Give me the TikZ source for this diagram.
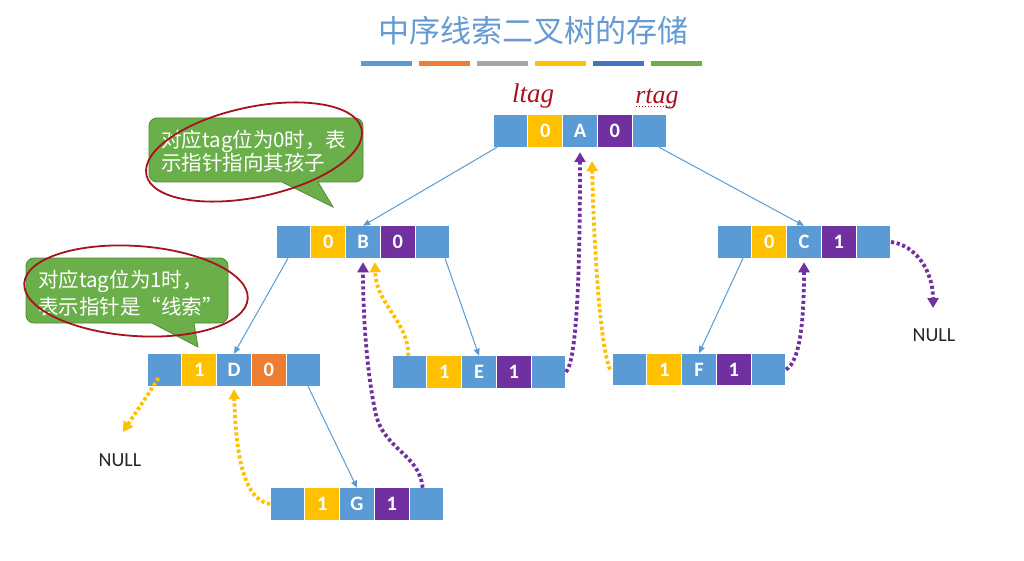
\documentclass[tikz,border=0pt]{standalone}
\usepackage{fontspec}
\setmainfont{Carlito}
\newfontfamily\cjk{Noto Sans CJK SC}
\newfontfamily\handfont{Liberation Serif}
\usetikzlibrary{arrows.meta,calc}
\definecolor{cblue}{HTML}{5B9BD5}
\definecolor{cyellow}{HTML}{FFC000}
\definecolor{cpurple}{HTML}{7030A0}
\definecolor{corange}{HTML}{ED7D31}
\definecolor{cgray}{HTML}{A5A5A5}
\definecolor{cdblue}{HTML}{4472C4}
\definecolor{cgreen}{HTML}{70AD47}
\definecolor{ctitle}{HTML}{649BD2}
\definecolor{calloutfill}{HTML}{6AAF4A}
\definecolor{calloutline}{HTML}{4E8A35}
\definecolor{handred}{HTML}{A8121E}
\newcommand{\rec}[8]{%
  \node[cell,fill=cblue] (#1a) at (#2+17.4,#3) {};
  \node[cell,fill=#4] (#1b) at (#2+52.2,#3) {#5};
  \node[cell,fill=cblue] (#1c) at (#2+87,#3) {#6};
  \node[cell,fill=#7] (#1d) at (#2+121.8,#3) {#8};
  \node[cell,fill=cblue] (#1e) at (#2+156.6,#3) {};
}
\begin{document}
\begin{tikzpicture}[x=1pt,y=-1pt,
  cell/.style={draw=white,line width=1.2pt,minimum width=34.8pt,minimum height=32.5pt,inner sep=0pt,outer sep=0pt,text=white,font=\fontsize{20.5}{20.5}\selectfont\bfseries},
  childarrow/.style={draw=cblue,line width=1pt,-{Triangle[length=7pt,width=6pt]}},
  ythr/.style={draw=cyellow,line width=3.8pt,dash pattern=on 3.2pt off 2.6pt,-{Triangle[length=10pt,width=11pt]}},
  pthr/.style={draw=cpurple,line width=3.8pt,dash pattern=on 3.2pt off 2.6pt,-{Triangle[length=10pt,width=11pt]}},
  callout/.style={fill=calloutfill,draw=calloutline,line width=0.8pt},
  callouttext/.style={text=white,align=left,anchor=west,inner sep=0pt},
  nulltext/.style={text=black!85,font=\fontsize{20}{20}\selectfont,inner sep=0pt},
  handtext/.style={text=handred,font=\handfont\itshape\fontsize{27}{27}\selectfont,inner sep=0pt},
  redring/.style={draw=handred,line width=1.8pt}
]
\useasboundingbox (0,0) rectangle (1024,561);
\fill[white] (0,0) rectangle (1024,561);

% title and colour bars
\node[text=ctitle,font=\cjk\fontsize{31}{31}\selectfont,inner sep=0pt] (title) at (533,31) {中序线索二叉树的存储};
\foreach \c [count=\i from 0] in {cblue,corange,cgray,cyellow,cdblue,cgreen}
  \fill[\c] (361+58*\i,61) rectangle ++(51,5);

% callouts
\draw[callout] (250,118) [rounded corners=8pt] -- (363,118) -- (363,182) [sharp corners] -- (318,182) -- (333,207) -- (282,182) [rounded corners=8pt] -- (149,182) -- (149,118) -- cycle;
\node[callouttext,font=\cjk\fontsize{20.5}{23}\selectfont] (c1text) at (161,151.5) {对应tag位为0时，表\\示指针指向其孩子};
\draw[callout] (127,258) [rounded corners=8pt] -- (228,258) -- (228,323) [sharp corners] -- (194,323) -- (198,347) -- (152,323) [rounded corners=8pt] -- (26,323) -- (26,258) -- cycle;
\node[callouttext,font=\cjk\fontsize{20.5}{27}\selectfont] (c2text) at (38,293.5) {对应tag位为1时，\\表示指针是“线索”};

% records
\rec{A}{493}{131}{cyellow}{0}{A}{cpurple}{0}
\rec{B}{276}{242}{cyellow}{0}{B}{cpurple}{0}
\rec{C}{717}{242}{cyellow}{0}{C}{cpurple}{1}
\rec{D}{147}{370}{cyellow}{1}{D}{corange}{0}
\rec{E}{392}{372}{cyellow}{1}{E}{cpurple}{1}
\rec{F}{612}{369.5}{cyellow}{1}{F}{cpurple}{1}
\rec{G}{270}{504}{cyellow}{1}{G}{cpurple}{1}

% child pointers
\draw[childarrow] ([xshift=4pt]Aa.south west) -- (Bc.north);
\draw[childarrow] ([xshift=-8pt]Ae.south east) -- (Cc.north);
\draw[childarrow] ([xshift=12pt]Ba.south west) -- (Dc.north);
\draw[childarrow] ([xshift=-5pt]Be.south east) -- (Ec.north);
\draw[childarrow] ([xshift=26pt]Ca.south west) -- (Fc.north);
\draw[childarrow] ([xshift=-13pt]De.south east) -- (Gc.north);

% NULL labels
\node[nulltext] (nullL) at (120,460) {NULL};
\node[nulltext] (nullR) at (934,335) {NULL};
\coordinate (nD) at (123,432);
\coordinate (nC) at (933,308);

% threads
\draw[ythr] ([xshift=-6pt,yshift=-8pt]Da.center) .. controls (148,395) and (132,418) .. (nD);
\draw[ythr] (Ga.west) .. controls (245,500) and (236,460) .. ([yshift=-3pt]Dc.south);
\draw[pthr] ([xshift=-4pt]Ge.north) .. controls (420,455) and (385,450) .. (376,415) .. controls (366,370) and (363,310) .. ([yshift=-4pt]Bc.south);
\draw[ythr] ([xshift=-1pt]Ea.north) .. controls (408,320) and (376,305) .. ([xshift=12pt,yshift=-4pt]Bc.south);
\draw[pthr] (Ee.east) .. controls (578,360) and (580,250) .. ([yshift=-5pt]Ac.south);
\draw[ythr] ([xshift=-2pt]Fa.west) .. controls (600,345) and (594,250) .. ([xshift=12pt,yshift=-14pt]Ac.south);
\draw[pthr] (Fe.east) .. controls (800,362) and (804,320) .. ([yshift=-4pt]Cc.south);
\draw[pthr] (Ce.east) .. controls (915,245) and (933,270) .. (nC);

% handwritten annotations
\draw[redring,rotate around={12:(254,152)}] (254,152) ellipse [x radius=110, y radius=45];
\draw[redring,rotate around={-4:(136,291)}] (136,291) ellipse [x radius=112, y radius=45];
\node[handtext] (ltag) at (533,96) {ltag};
\node[handtext,font=\handfont\itshape\fontsize{26}{26}\selectfont] (rtag) at (657,99) {rtag};
\draw[handred,line width=1pt,dotted] (636,107) -- (672,107);
\end{tikzpicture}
\end{document}
